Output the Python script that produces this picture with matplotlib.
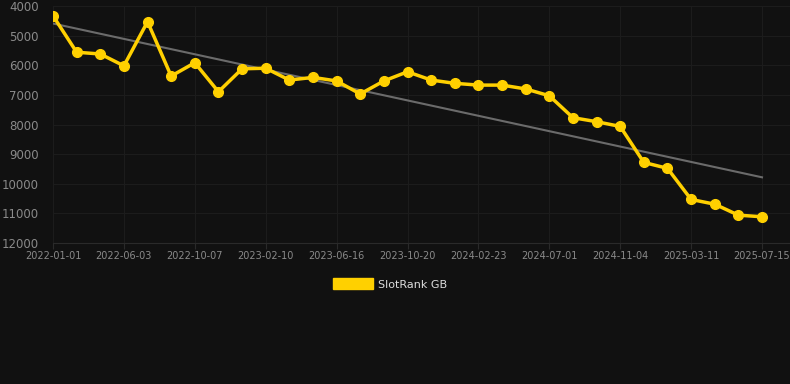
import numpy as np
from matplotlib import pyplot as plt

# SlotRank GB rank over time (lower is better, axis inverted)
ranks = [4330, 5560, 5620, 6020, 4530, 6365, 5915, 6895, 6120, 6100,
         6500, 6410, 6530, 6970, 6530, 6220, 6500, 6610, 6670, 6670,
         6800, 7030, 7770, 7905, 8065, 9280, 9480, 10530, 10690, 11060,
         11115]
tick_labels = ['2022-01-01', '2022-06-03', '2022-10-07', '2023-02-10',
               '2023-06-16', '2023-10-20', '2024-02-23', '2024-07-01',
               '2024-11-04', '2025-03-11', '2025-07-15']
y_ticks = [4000, 5000, 6000, 7000, 8000, 9000, 10000, 11000, 12000]

bg = '#111111'
yellow = '#ffd000'

x = np.arange(len(ranks))
slope, intercept = np.polyfit(x, ranks, 1)

fig = plt.figure(figsize=(7.9, 3.84), dpi=100, facecolor=bg)
ax = fig.add_axes([53 / 790, 1 - 243 / 384, 737 / 790, 237 / 384])
ax.set_facecolor(bg)

ax.plot(x, slope * x + intercept, color='#6b6b6b', lw=1.5, zorder=2)
ax.plot(x, ranks, color=yellow, lw=2.5, marker='o', ms=7, zorder=3,
        label='SlotRank GB')

ax.set_xlim(0, 737 / (709 / 30))
ax.set_ylim(12000, 4000)
ax.set_yticks(y_ticks)
ax.set_xticks(x[::3])
ax.set_xticklabels(tick_labels)

ax.grid(True, color='#1c1c1c', lw=0.8, zorder=0)
for side in ['top', 'right', 'left']:
    ax.spines[side].set_visible(False)
ax.spines['bottom'].set_color('#2a2a2a')
ax.tick_params(axis='y', length=0, pad=10, labelsize=8.5, labelcolor='#8a8a8a')
ax.tick_params(axis='x', length=4, color='#2a2a2a', pad=2, labelsize=7,
               labelcolor='#8a8a8a')

leg = fig.legend(handles=[plt.Rectangle((0, 0), 1, 1, color=yellow)],
                 labels=['SlotRank GB'], loc='center', bbox_to_anchor=(390 / 790, 1 - 284 / 384),
                 frameon=False, fontsize=8, handlelength=3.6, handleheight=1.1,
                 handletextpad=0.5, labelcolor='#dddddd')

fig.savefig('out.png', dpi=100, facecolor=bg)
